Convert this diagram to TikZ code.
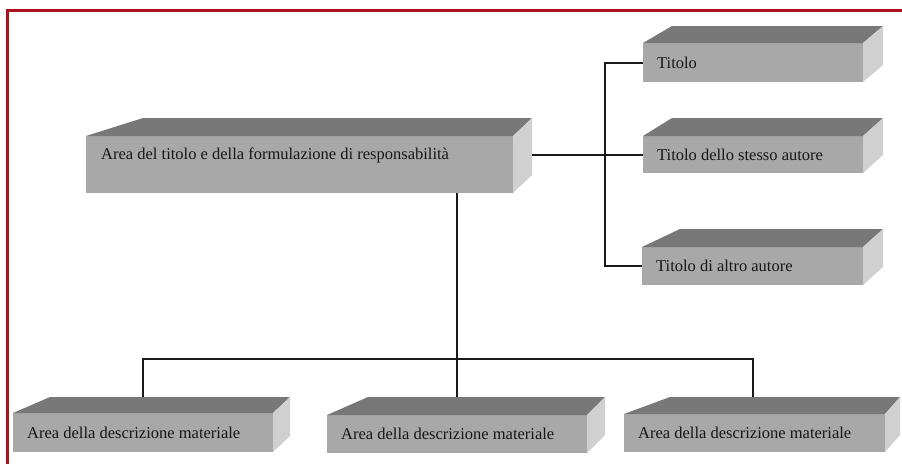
\documentclass[tikz,border=0pt]{standalone}
\usepackage{fontspec}
\setmainfont{Liberation Serif}
\usetikzlibrary{calc}

\definecolor{frontgray}{RGB}{168,168,168}
\definecolor{topgray}{RGB}{120,120,120}
\definecolor{sidegray}{RGB}{208,208,208}
\definecolor{framered}{RGB}{172,18,28}
\definecolor{inkgray}{RGB}{22,22,22}

\tikzset{
  face/.style={rectangle, fill=frontgray, draw=none, inner sep=0pt, outer sep=0pt, anchor=north west},
  lbl/.style={anchor=west, inner sep=0pt, text=inkgray, font=\fontsize{16.5}{19}\selectfont},
  link/.style={draw=black!90, line width=2pt},
  frameline/.style={draw=framered, line width=3pt},
}

% slab: name, front x1, front y1, front x2, front y2, back y, back-left x, back-right x
\newcommand\drawslab[8]{%
  \node[face, minimum width={(#4-#2)*1pt}, minimum height={(#5-#3)*1pt}] (#1) at (#2,#3) {};
  \coordinate (#1-bl) at (#7,#6);
  \coordinate (#1-br) at (#8,#6);
  \fill[topgray] (#1.north west) -- (#1-bl) -- (#1-br) -- (#1.north east) -- cycle;
  \fill[sidegray] (#1.north east) -- (#1-br) -- (#8,{#6+#5-#3}) -- (#1.south east) -- cycle;
}

\begin{document}
\begin{tikzpicture}[x=1pt, y=-1pt]
  \useasboundingbox (0,0) rectangle (902,464);
  \fill[white] (0,0) rectangle (902,464);

  % outer frame (top and left edges)
  \draw[frameline] (7,464) -- (7,10) -- (902,10);

  % slabs
  \drawslab{main}{86}{136}{513}{193}{118}{143}{532}
  \drawslab{t1}{643}{43}{863}{82}{26}{672}{883}
  \drawslab{t2}{643}{136}{863}{173}{118}{672}{883}
  \drawslab{t3}{642}{247}{863}{285}{229}{680}{883}
  \drawslab{b1}{13}{413}{273}{452}{397}{50}{290}
  \drawslab{b2}{327}{415}{587}{453}{397}{368}{605}
  \drawslab{b3}{624}{414}{885}{452}{397}{670}{900}

  % labels
  \node[lbl] (main-txt) at ($(main.west)+(15,-9.5)$) {Area del titolo e della formulazione di responsabilità};
  \node[lbl] (t1-txt) at ($(t1.west)+(14,0)$) {Titolo};
  \node[lbl] (t2-txt) at ($(t2.west)+(14,0)$) {Titolo dello stesso autore};
  \node[lbl] (t3-txt) at ($(t3.west)+(14,0)$) {Titolo di altro autore};
  \node[lbl] (b1-txt) at ($(b1.west)+(14,0)$) {Area della descrizione materiale};
  \node[lbl] (b2-txt) at ($(b2.west)+(14,0)$) {Area della descrizione materiale};
  \node[lbl] (b3-txt) at ($(b3.west)+(14,0)$) {Area della descrizione materiale};

  % connector junctions
  \coordinate (main-side) at (532,155);
  \coordinate (tbus) at (605,155);
  \coordinate (hub) at (457,359);
  \coordinate (busL) at (143,359);
  \coordinate (busR) at (753,359);

  % right-hand tree
  \draw[link] (main-side) -- (main-side -| t2.west);
  \draw[link] (t1.west) -- (t1.west -| tbus) -- (t3.west -| tbus) -- (t3.west);

  % lower tree
  \draw[link] (main.south -| hub) -- (hub);
  \draw[link] (b1-bl -| busL) -- (busL) -- (busR) -- (b3-bl -| busR);
  \draw[link] (hub) -- (b2-bl -| hub);
\end{tikzpicture}
\end{document}
